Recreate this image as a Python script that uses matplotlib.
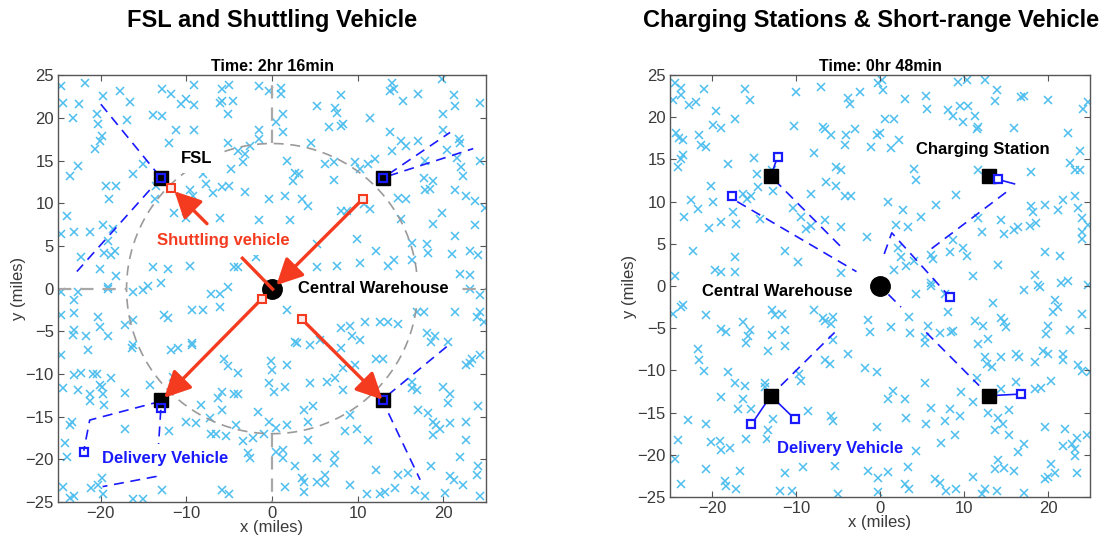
import numpy as np
import matplotlib
matplotlib.use('Agg')
import matplotlib.pyplot as plt

plt.rcParams['font.family'] = ['Liberation Sans', 'DejaVu Sans']

# ---------------------------------------------------------------------------
# data (miles)
# left panel: customers (x, y) by quadrant
fsl_cust_nw = [(-24.6, 23.7), (-21.9, 24.1), (-17.8, 23.2), (-12.8, 23.4), (-11.8, 22.8), (-9.1, 23.9),
               (-5.9, 23.4), (-5.0, 23.9), (-1.5, 23.7), (-0.3, 23.2), (-24.4, 21.8), (-22.6, 21.6),
               (-19.8, 22.6), (-16.6, 21.9), (-10.6, 21.6), (-10.0, 22.2), (-9.1, 21.5), (-6.1, 21.8),
               (-5.9, 22.0), (-4.6, 22.0), (-23.3, 20.0), (-20.5, 20.4), (-20.3, 19.3), (-17.0, 19.8),
               (-13.9, 20.3), (-12.8, 20.2), (-11.2, 18.6), (-9.1, 18.6), (-5.2, 20.4), (-1.5, 18.6),
               (-19.9, 17.9), (-20.1, 17.3), (-20.7, 16.3), (-12.0, 17.1), (-5.2, 17.0), (-4.0, 16.1),
               (-2.6, 16.7), (-1.5, 17.5), (-22.7, 14.4), (-23.6, 13.2), (-16.3, 13.4), (-15.1, 14.6),
               (-8.1, 13.4), (-4.8, 14.0), (-3.4, 14.8), (-3.2, 15.8), (-19.4, 12.0), (-18.2, 12.0),
               (-19.0, 10.5), (-13.5, 12.0), (-13.7, 10.5), (-9.6, 11.5), (-9.2, 10.9), (-7.7, 12.3),
               (-6.9, 11.2), (-5.9, 11.9), (-5.0, 12.0), (-3.2, 11.3), (-0.3, 10.5), (-24.0, 8.5),
               (-11.4, 8.9), (-10.0, 8.3), (-6.1, 8.3), (-1.5, 8.0), (-24.6, 6.4), (-23.1, 6.6),
               (-21.3, 6.6), (-19.8, 7.4), (-18.6, 7.0), (-19.2, 5.6), (-19.6, 4.2), (-18.4, 4.4),
               (-18.8, 3.9), (-22.3, 3.7), (-20.1, 2.3), (-18.2, 1.5), (-13.9, 2.5), (-12.2, 2.3),
               (-9.6, 2.6), (-4.4, 2.5), (-4.0, 2.5), (-1.9, 3.7), (-19.2, 0.2), (-14.5, 0.3),
               (-13.0, 0.7), (-0.3, 0.5)]
fsl_cust_ne = [(1.1, 23.5), (1.1, 22.8), (14.0, 24.1), (13.8, 23.2), (14.2, 23.4), (19.8, 24.5),
               (17.1, 22.8), (21.2, 22.7), (24.3, 21.8), (8.1, 22.7), (15.3, 22.0), (5.2, 21.4),
               (7.4, 21.1), (7.6, 20.6), (1.3, 20.4), (0.5, 19.5), (11.4, 20.0), (20.0, 20.4),
               (21.4, 21.4), (6.6, 18.9), (8.0, 19.1), (8.3, 19.3), (1.3, 18.3), (13.8, 18.3),
               (20.0, 18.6), (21.8, 17.5), (22.0, 17.1), (4.6, 17.0), (15.1, 17.3), (15.7, 16.7),
               (17.1, 17.3), (14.0, 16.1), (20.4, 16.2), (1.7, 15.0), (6.2, 14.6), (7.2, 14.8),
               (9.7, 14.8), (10.3, 14.0), (11.2, 14.6), (12.0, 15.2), (17.9, 15.0), (21.6, 15.3),
               (22.1, 14.2), (24.3, 15.0), (22.3, 13.2), (2.7, 13.6), (3.1, 13.4), (2.5, 12.6),
               (7.2, 12.7), (17.7, 12.9), (18.8, 12.6), (18.4, 11.7), (17.9, 11.5), (1.5, 10.9),
               (3.5, 10.5), (4.2, 9.7), (14.7, 10.6), (15.7, 10.5), (21.4, 11.5), (22.7, 10.9),
               (23.7, 10.3), (24.9, 9.5), (8.0, 9.1), (8.7, 9.1), (10.7, 9.9), (11.4, 9.3),
               (15.1, 8.1), (19.8, 8.8), (18.8, 7.6), (23.7, 7.4), (2.1, 8.0), (9.9, 5.8),
               (16.3, 5.4), (18.1, 5.2), (18.2, 4.2), (21.4, 6.2), (5.2, 5.2), (12.2, 4.4),
               (21.0, 4.1), (23.1, 4.4), (24.1, 3.9), (5.2, 2.5), (7.6, 2.7), (10.3, 3.0),
               (13.6, 2.7), (14.2, 3.3), (16.3, 3.3), (22.0, 1.7), (23.1, 1.6)]
fsl_cust_sw = [(-24.6, -0.4), (-22.7, -0.4), (-19.2, 0.0), (-16.3, -0.4), (-15.1, -0.2), (-7.1, -0.6),
               (-6.1, -0.6), (-5.2, 0.2), (-6.1, -2.1), (-23.1, -1.3), (-24.6, -3.1), (-23.1, -2.9),
               (-20.3, -3.3), (-20.1, -4.5), (-17.2, -4.3), (-16.3, -3.7), (-12.6, -3.1), (-12.2, -3.5),
               (-9.3, -2.5), (-8.1, -2.5), (-23.1, -4.8), (-23.3, -5.4), (-21.7, -5.5), (-19.2, -5.6),
               (-16.3, -6.6), (-16.4, -7.0), (-11.8, -7.2), (-11.0, -7.0), (-9.4, -6.4), (-9.3, -6.6),
               (-24.6, -7.8), (-21.5, -7.2), (-5.6, -8.3), (-5.2, -9.1), (-4.0, -9.9), (-0.1, -8.5),
               (-23.1, -10.1), (-22.3, -9.9), (-20.9, -10.0), (-20.5, -10.0), (-18.8, -10.5),
               (-20.1, -11.3), (-19.9, -11.5), (-24.4, -11.7), (-22.7, -11.9), (-21.3, -12.4),
               (-19.8, -12.4), (-19.6, -13.6), (-17.2, -12.2), (-21.3, -13.2), (-14.3, -11.3),
               (-11.6, -10.3), (-5.9, -12.1), (-6.3, -12.8), (-4.4, -12.3), (-4.0, -12.4), (-0.3, -11.1),
               (-8.3, -13.6), (-5.9, -14.2), (-1.7, -14.4), (-0.3, -15.6), (-23.4, -15.6), (-23.6, -16.0),
               (-17.2, -16.5), (-12.0, -16.7), (-10.0, -15.6), (-8.9, -15.8), (-7.3, -15.2), (-7.1, -17.0),
               (-6.5, -17.0), (-5.4, -17.3), (-4.2, -16.0), (-3.4, -17.9), (-2.2, -17.5), (-0.9, -17.0),
               (-24.2, -18.1), (-24.0, -19.7), (-2.8, -19.3), (-2.6, -19.9), (-19.9, -22.2),
               (-20.3, -23.0), (-21.1, -23.4), (-24.4, -23.2), (-23.1, -24.3), (-19.8, -24.1),
               (-16.3, -24.7), (-15.1, -24.7), (-12.8, -23.6), (-5.9, -23.6), (-5.0, -24.1), (-23.6, -24.5)]
fsl_cust_se = [(23.1, 0.0), (24.3, -0.7), (1.7, -2.5), (16.9, -2.7), (17.7, -2.7), (21.4, -2.7),
               (23.9, -3.3), (24.7, -3.9), (24.3, -2.7), (10.9, -3.9), (12.6, -3.9), (13.6, -3.9),
               (14.7, -4.1), (8.0, -4.6), (9.1, -4.4), (18.1, -5.2), (19.0, -5.6), (20.6, -6.2),
               (18.6, -6.2), (2.7, -6.2), (4.4, -6.6), (2.9, -6.4), (5.6, -6.0), (9.3, -5.6),
               (10.3, -6.0), (8.1, -7.0), (23.3, -8.2), (23.1, -8.7), (22.7, -8.9), (24.3, -7.8),
               (12.2, -8.3), (13.0, -8.2), (1.7, -9.0), (0.0, -9.5), (8.3, -9.3), (9.7, -9.0),
               (7.4, -10.5), (6.4, -10.9), (4.4, -11.1), (8.3, -11.9), (1.5, -11.5), (0.2, -12.1),
               (16.3, -10.9), (16.3, -11.7), (16.9, -11.9), (20.0, -11.5), (20.8, -12.4), (20.6, -13.4),
               (17.1, -14.2), (18.2, -14.6), (22.7, -15.6), (24.1, -13.8), (3.7, -14.2), (4.8, -13.8),
               (9.1, -14.8), (4.2, -15.6), (1.7, -16.0), (0.5, -16.3), (8.5, -16.7), (9.9, -16.5),
               (11.2, -17.7), (4.2, -17.7), (20.8, -15.8), (19.2, -16.0), (18.8, -15.6), (19.6, -16.5),
               (18.8, -17.1), (22.7, -17.7), (0.5, -19.1), (1.3, -18.9), (1.3, -19.9), (5.2, -19.9),
               (7.4, -19.5), (7.2, -20.4), (2.7, -20.8), (12.2, -21.2), (14.7, -21.8), (15.9, -21.6),
               (18.6, -20.8), (22.0, -19.7), (24.1, -20.8), (20.8, -22.0), (21.2, -22.4), (22.3, -23.0),
               (23.9, -21.8), (3.5, -22.2), (3.7, -22.6), (5.2, -22.6), (6.2, -21.8), (6.2, -22.8),
               (1.5, -23.2), (9.1, -23.0), (11.1, -24.1), (12.6, -24.1), (14.4, -23.4), (13.2, -23.8),
               (16.7, -23.6), (17.9, -24.3), (20.2, -24.0), (24.3, -24.3), (3.7, -23.8)]

# right panel: customers (x, y) by quadrant
cs_cust_nw = [(-24.4, 24.0), (-23.7, 23.4), (-23.7, 22.6), (-24.6, 22.0), (-22.7, 21.4), (-21.9, 21.8),
              (-20.9, 23.3), (-16.1, 23.3), (-15.5, 22.0), (-10.0, 23.0), (-7.0, 23.6), (-3.8, 22.3),
              (-3.6, 21.6), (-2.4, 23.0), (-0.2, 24.0), (-19.5, 20.7), (-19.9, 19.1), (-18.9, 18.7),
              (-17.3, 19.8), (-10.2, 19.0), (-6.8, 18.8), (-6.6, 18.6), (-5.8, 17.9), (-4.0, 17.9),
              (-3.0, 18.6), (-4.2, 16.7), (-0.4, 17.9), (-1.1, 16.5), (-24.3, 18.1), (-23.9, 17.5),
              (-23.5, 17.3), (-21.5, 17.9), (-21.3, 16.7), (-20.7, 16.5), (-23.5, 15.5), (-23.7, 15.0),
              (-24.0, 14.1), (-18.1, 14.5), (-15.0, 15.2), (-7.9, 15.7), (-5.2, 14.1), (-4.6, 13.7),
              (-14.7, 13.3), (-14.5, 11.7), (-12.9, 13.7), (-12.7, 11.3), (-20.1, 11.8), (-22.5, 10.2),
              (-21.7, 9.1), (-19.9, 10.0), (-16.3, 10.9), (-15.8, 10.3), (-15.3, 10.7), (-8.2, 10.9),
              (-6.4, 12.3), (-5.2, 11.9), (-4.2, 10.7), (-3.5, 10.7), (-17.5, 8.8), (-18.9, 7.6),
              (-17.1, 7.4), (-20.3, 6.9), (-23.3, 8.2), (-14.3, 7.9), (-10.4, 9.2), (-9.4, 8.2),
              (-8.8, 6.8), (-8.2, 7.1), (-6.6, 7.8), (-4.6, 7.0), (-1.5, 5.8), (-22.3, 4.2),
              (-17.3, 3.4), (-11.3, 4.2), (-9.8, 2.8), (-24.4, 1.2), (-19.7, 1.9), (-18.9, 1.7),
              (-17.3, 1.7), (-4.6, 1.5)]
cs_cust_ne = [(0.2, 24.4), (0.4, 23.2), (9.3, 24.2), (10.3, 24.4), (12.5, 24.4), (13.9, 23.2),
              (13.7, 21.9), (16.8, 22.4), (17.2, 22.5), (20.0, 22.0), (24.8, 21.8), (24.2, 21.0),
              (3.0, 22.1), (5.5, 22.5), (5.6, 21.0), (8.1, 20.8), (8.7, 20.2), (9.5, 21.3),
              (10.5, 21.3), (11.3, 20.1), (9.9, 19.4), (11.7, 18.8), (11.5, 18.6), (0.6, 19.8),
              (1.7, 19.8), (16.0, 18.7), (22.4, 18.1), (0.0, 18.1), (2.3, 17.3), (1.3, 16.3),
              (23.8, 16.0), (22.6, 14.6), (23.2, 13.7), (23.8, 13.7), (18.0, 13.5), (11.7, 13.7),
              (4.1, 13.9), (4.3, 12.6), (9.1, 10.8), (0.9, 9.9), (2.7, 9.0), (4.9, 8.2),
              (6.7, 9.6), (11.7, 8.1), (14.4, 7.8), (12.1, 6.4), (14.8, 6.2), (16.0, 6.6),
              (16.4, 7.0), (17.8, 7.1), (18.6, 7.5), (18.2, 8.8), (18.0, 9.5), (19.6, 9.6),
              (21.2, 9.0), (21.8, 10.2), (23.2, 10.7), (23.6, 9.2), (24.0, 8.0), (24.8, 7.2),
              (24.0, 6.4), (24.0, 5.6), (1.9, 7.2), (3.3, 7.0), (2.1, 4.5), (2.5, 3.4),
              (3.1, 2.4), (4.1, 3.0), (6.1, 3.7), (6.3, 3.2), (8.3, 4.0), (8.7, 5.4),
              (9.9, 4.5), (10.3, 3.6), (1.7, 1.9), (14.1, 2.5), (11.1, 1.2), (6.1, 0.3),
              (18.4, 1.3), (18.8, 0.1), (19.6, 4.0), (21.4, 3.6), (21.6, 0.4), (22.4, 0.6), (24.8, 0.1)]
cs_cust_sw = [(-24.6, -3.3), (-23.7, -2.5), (-23.5, -2.3), (-20.7, -3.4), (-16.3, -4.3), (-15.5, -5.2),
              (-15.7, -5.9), (-15.9, -6.7), (-18.9, -5.1), (-18.3, -5.5), (-12.9, -2.9), (-12.5, -3.4),
              (-11.7, -3.3), (-11.3, -5.2), (-12.9, -5.8), (-11.3, -7.1), (-13.3, -7.7), (-21.7, -7.5),
              (-21.5, -8.8), (-20.9, -10.1), (-18.1, -10.2), (-17.3, -11.5), (-16.1, -11.8), (-13.7, -11.5),
              (-13.7, -12.0), (-18.9, -13.2), (-16.3, -13.4), (-15.3, -14.6), (-16.9, -14.6), (-7.8, -2.8),
              (-6.8, -3.8), (-6.6, -4.1), (-5.6, -3.7), (-5.8, -4.5), (-1.4, -4.0), (-1.2, -5.5),
              (-5.6, -6.4), (-3.8, -8.1), (-6.6, -8.8), (-6.0, -9.2), (-9.6, -10.4), (-9.4, -11.2),
              (-1.8, -9.7), (-0.3, -10.2), (-8.6, -14.8), (-5.8, -15.4), (-5.6, -16.0), (-0.4, -16.7),
              (-22.9, -15.9), (-20.7, -16.4), (-12.7, -15.8), (-13.3, -17.1), (-13.5, -18.1), (-15.9, -18.1),
              (-24.0, -18.3), (-24.4, -20.5), (-20.1, -18.5), (-19.1, -18.4), (-18.9, -19.4), (-17.9, -19.2),
              (-20.7, -21.7), (-16.7, -21.9), (-9.2, -21.4), (-11.3, -22.2), (-5.4, -21.3), (-1.4, -21.9),
              (-0.2, -22.7), (-23.7, -23.4), (-18.5, -23.1), (-18.3, -23.7), (-17.1, -24.1), (-11.9, -24.3),
              (-10.5, -24.3), (-5.0, -24.6), (-0.2, -24.4)]
cs_cust_se = [(4.3, -1.0), (6.1, 0.0), (7.7, -1.0), (8.1, -3.1), (13.5, -2.0), (17.2, -0.5),
              (19.0, -0.1), (20.8, -1.7), (21.2, -2.5), (20.6, -3.1), (24.0, -3.3), (1.3, -4.9),
              (3.5, -3.7), (3.6, -5.6), (5.3, -6.1), (5.3, -6.7), (5.7, -4.7), (7.1, -5.6),
              (8.5, -5.5), (8.7, -5.3), (11.3, -4.1), (12.3, -4.7), (14.4, -3.8), (14.8, -4.3),
              (15.0, -4.9), (12.9, -6.3), (11.7, -6.9), (20.0, -4.7), (19.8, -5.7), (22.6, -5.2),
              (12.5, -8.4), (12.7, -9.2), (13.3, -9.6), (14.4, -8.4), (16.2, -8.0), (16.6, -8.4),
              (18.4, -9.0), (19.4, -7.7), (20.0, -8.0), (21.8, -8.1), (21.8, -8.8), (23.6, -9.4),
              (24.0, -10.1), (25.0, -10.2), (11.5, -10.9), (5.3, -11.5), (1.5, -12.4), (1.0, -13.4),
              (3.0, -13.4), (9.7, -12.6), (11.1, -13.8), (12.9, -13.4), (14.4, -12.2), (16.2, -11.4),
              (18.4, -12.2), (19.2, -12.1), (20.4, -11.2), (6.1, -14.5), (8.3, -14.6), (9.5, -15.4),
              (3.1, -15.6), (5.5, -16.4), (7.7, -16.0), (8.9, -17.7), (12.9, -15.1), (14.1, -15.6),
              (14.6, -16.3), (15.4, -14.7), (13.7, -17.1), (15.4, -17.7), (19.6, -16.7), (22.0, -17.0),
              (23.4, -18.0), (24.6, -17.7), (22.8, -18.7), (21.8, -19.0), (23.2, -19.3), (23.2, -20.1),
              (7.3, -18.6), (4.3, -19.5), (17.2, -18.7), (16.4, -19.7), (14.1, -20.6), (13.7, -21.7),
              (14.8, -21.6), (16.0, -21.9), (20.4, -21.1), (20.8, -22.1), (23.4, -22.2), (3.3, -21.4),
              (1.0, -22.0), (3.0, -23.5), (3.5, -24.1), (6.5, -22.9), (7.1, -23.3), (7.9, -24.3),
              (9.1, -24.1), (11.1, -22.6), (12.5, -24.1), (13.9, -24.3), (17.2, -24.5), (19.6, -22.9),
              (20.0, -22.6), (12.1, -24.6)]

# depots
warehouse = (0, 0)
fsl_x = [-13, 13, 13, -13]
fsl_y = [13, 13, -13, -13]
station_x = [-13, 13, 13, -13]
station_y = [13, 13, -13, -13]

# left panel vehicles
shuttle_x = [-11.8, 10.6, -1.2, 3.5]
shuttle_y = [11.8, 10.5, -1.2, -3.6]
# (start, end) of shuttle arrows
shuttle_arrows = [((-7.6, 7.6), (-11.4, 11.4)),
                  ((10.6, 10.5), (0.5, 0.4)),
                  ((-1.2, -1.2), (-12.6, -12.8)),
                  ((3.5, -3.6), (12.9, -13.0))]
label_link = [(-3.6, 3.7), (0.2, -0.2)]
fsl_veh_x = [-13, 13, 13, -13, -22.0]
fsl_veh_y = [13, 13, -13, -14.0, -19.2]
fsl_routes = [[(-20.0, 21.6), (-13, 13)],
              [(-13, 13), (-22.8, 2.0)],
              [(13.6, 13.4), (20.8, 18.3)],
              [(13.6, 13.2), (23.5, 16.4)],
              [(13.5, -12.5), (20.4, -6.8)],
              [(13.6, -14.6), (17.3, -22.4)],
              [(-13, -13.2), (-21.3, -15.4), (-22.0, -19.0)],
              [(-13.0, -14.2), (-13.5, -22.0), (-19.8, -23.2)]]

# right panel vehicles
cs_veh_x = [-12.2, -17.6, 8.3, 14.0, 16.8, -15.3, -10.1]
cs_veh_y = [15.3, 10.7, -1.3, 12.7, -12.8, -16.4, -15.8]
cs_links = [[(-13, 13), (-12.2, 15.3)],
            [(13, 12.9), (16.0, 12.1)],
            [(13, -13), (16.8, -12.8)],
            [(-13, -13), (-15.3, -16.4)],
            [(-13, -13), (-10.1, -15.8)]]
cs_routes = [[(-17.0, 10.0), (-2.8, 1.7)],
             [(-12.6, 12.6), (-4.6, 4.6)],
             [(0.5, 3.8), (1.4, 6.3), (8.3, -1.3)],
             [(15.0, 11.1), (6.1, 4.4)],
             [(1.0, -1.0), (2.5, -2.5)],
             [(5.5, -5.5), (11.8, -11.8)],
             [(-11.8, -11.8), (-5.4, -5.5)]]

# ---------------------------------------------------------------------------
cust_col = '#4DBEEE'
blue = '#1a1aff'
red = '#f53b1f'
frame_col = '#555555'
tick_col = '#3a3a3a'


def style_axes(ax, title):
    ax.set_xlim(-25, 25)
    ax.set_ylim(-25, 25)
    ax.set_xticks([-20, -10, 0, 10, 20])
    ax.set_yticks([-25, -20, -15, -10, -5, 0, 5, 10, 15, 20, 25])
    ax.tick_params(direction='in', top=True, right=True, length=4, width=0.8,
                   colors=frame_col, labelcolor=tick_col, labelsize=12, pad=3)
    for s in ax.spines.values():
        s.set_color(frame_col)
        s.set_linewidth(1.0)
    ax.set_xlabel('x (miles)', fontsize=12, color=tick_col, labelpad=-1)
    ax.set_ylabel('y (miles)', fontsize=12, color=tick_col, labelpad=0)
    ax.set_title(title, fontsize=11.5, fontweight='bold', pad=3)


def plot_customers(ax, groups):
    pts = np.array([p for g in groups for p in g])
    ax.plot(pts[:, 0], pts[:, 1], 'x', color=cust_col, ms=6, mew=1.1, zorder=1)


def label(ax, x, y, s, color):
    ax.text(x, y, s, fontsize=12, fontweight='bold', color=color, ha='left', va='center',
            zorder=5, bbox=dict(boxstyle='square,pad=0.4', fc='white', ec='none'))


fig = plt.figure(figsize=(11.1, 5.43), dpi=100)

# ---- left panel: FSL and shuttling vehicle
ax1 = fig.add_axes([0.0523, 0.0755, 0.3856, 0.786])
plot_customers(ax1, [fsl_cust_nw, fsl_cust_ne, fsl_cust_sw, fsl_cust_se])

t = np.linspace(0, 2 * np.pi, 400)
ax1.plot(17 * np.cos(t), 17 * np.sin(t), ls=(0, (6, 4)), color='#9a9a9a', lw=1.2, zorder=2)
for seg in [((0, 0), (17, 25)), ((0, 0), (-17, -25)), ((-25, -17), (0, 0)), ((17, 25), (0, 0))]:
    ax1.plot(seg[0], seg[1], ls=(0, (6, 4)), color='#a8a8a8', lw=1.6, zorder=2)

for r in fsl_routes:
    r = np.array(r)
    ax1.plot(r[:, 0], r[:, 1], ls=(0, (6, 4)), color=blue, lw=1.2, zorder=3)

ax1.plot(fsl_x, fsl_y, 's', color='black', ms=10, zorder=6)
ax1.plot(*warehouse, 'o', color='black', ms=14, zorder=6)
ax1.plot(fsl_veh_x, fsl_veh_y, 's', mfc='none', mec=blue, ms=5.5, mew=1.6, zorder=7)

label(ax1, -10.7, 15.2, 'FSL', 'black')
label(ax1, -13.4, 5.6, 'Shuttling vehicle', red)
label(ax1, 3.0, 0.0, 'Central Warehouse', 'black')
label(ax1, -19.9, -19.9, 'Delivery Vehicle', blue)

ax1.plot([label_link[0][0], label_link[1][0]], [label_link[0][1], label_link[1][1]],
         color=red, lw=2.4, zorder=8, solid_capstyle='butt')
for start, end in shuttle_arrows:
    ax1.annotate('', xy=end, xytext=start, zorder=8,
                 arrowprops=dict(arrowstyle='-|>,head_length=0.8,head_width=0.4', color=red,
                                 lw=2.4, shrinkA=0, shrinkB=0, mutation_scale=20))
ax1.plot(shuttle_x, shuttle_y, 's', mfc='#ffe8e8', mec=red, ms=5.5, mew=1.5, zorder=9)
style_axes(ax1, 'Time: 2hr 16min')

# ---- right panel: charging stations and short-range vehicle
ax2 = fig.add_axes([0.6036, 0.0847, 0.3784, 0.7772])
plot_customers(ax2, [cs_cust_nw, cs_cust_ne, cs_cust_sw, cs_cust_se])

for r in cs_routes:
    r = np.array(r)
    ax2.plot(r[:, 0], r[:, 1], ls=(0, (6, 4)), color=blue, lw=1.2, zorder=3)
for r in cs_links:
    r = np.array(r)
    ax2.plot(r[:, 0], r[:, 1], color=blue, lw=1.2, zorder=3)

ax2.plot(station_x, station_y, 's', color='black', ms=10, zorder=6)
ax2.plot(*warehouse, 'o', color='black', ms=14, zorder=6)
ax2.plot(cs_veh_x, cs_veh_y, 's', mfc='white', mec=blue, ms=5.5, mew=1.6, zorder=7)

label(ax2, 4.3, 16.2, 'Charging Station', 'black')
label(ax2, -21.2, -0.6, 'Central Warehouse', 'black')
label(ax2, -12.3, -19.2, 'Delivery Vehicle', blue)
style_axes(ax2, 'Time: 0hr 48min')

fig.text(0.245, 0.962, 'FSL and Shuttling Vehicle', fontsize=17, fontweight='bold',
         ha='center', va='center')
fig.text(0.785, 0.962, 'Charging Stations & Short-range Vehicle', fontsize=17, fontweight='bold',
         ha='center', va='center')

fig.savefig('out.png', dpi=100)
